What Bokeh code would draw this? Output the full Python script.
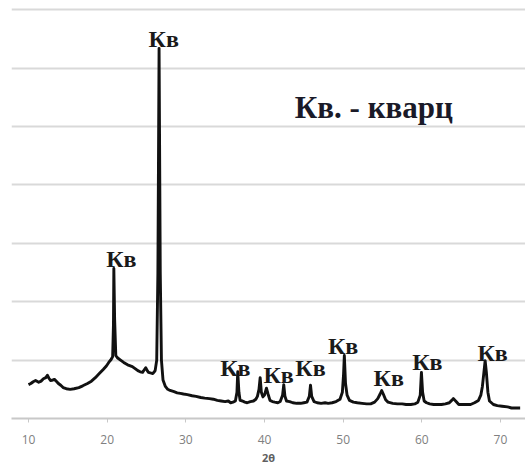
from bokeh.plotting import figure
from bokeh.models import Range1d, FixedTicker, ColumnDataSource
from bokeh.core.properties import value
from bokeh.embed import file_html
from bokeh.resources import INLINE

# XRD pattern (2θ, intensity in grid units)
two_theta = [
    10.0, 10.3, 10.6, 10.9, 11.3, 11.6, 11.9, 12.2, 12.4, 12.6, 12.8, 13.1, 13.3, 13.6, 13.8,
    14.1, 14.4, 14.8, 15.3, 15.8, 16.4, 16.9, 17.5, 18.0, 18.5, 19.0, 19.5, 19.9, 20.2, 20.5,
    20.7, 20.8, 20.85, 20.95, 21.1, 21.3, 21.7, 22.1, 22.6, 23.2, 23.6, 23.9, 24.2, 24.5, 24.7,
    24.9, 25.1, 25.25, 25.5, 25.8, 26.0, 26.1, 26.3, 26.45, 26.6, 26.75, 26.9, 27.1, 27.4, 27.7,
    28.0, 28.5, 28.9, 29.3, 29.7, 30.2, 30.8, 31.3, 31.9, 32.4, 33.0, 33.5, 34.0, 34.5, 35.0,
    35.4, 35.7, 36.0, 36.3, 36.5, 36.6, 36.75, 36.9, 37.2, 37.5, 37.8, 38.2, 38.6, 38.9, 39.1,
    39.3, 39.45, 39.6, 39.8, 40.0, 40.25, 40.45, 40.7, 41.0, 41.3, 41.7, 42.0, 42.3, 42.45, 42.6,
    42.8, 43.2, 43.6, 44.1, 44.6, 45.0, 45.4, 45.7, 45.85, 46.0, 46.3, 46.7, 47.2, 47.7, 48.1,
    48.6, 49.1, 49.6, 49.9, 50.05, 50.15, 50.3, 50.5, 50.8, 51.3, 51.8, 52.4, 53.0, 53.5, 54.0,
    54.4, 54.7, 54.9, 55.1, 55.4, 55.7, 56.3, 56.9, 57.5, 58.0, 58.6, 59.1, 59.5, 59.8, 59.95,
    60.1, 60.3, 60.6, 61.0, 61.5, 62.0, 62.5, 63.0, 63.5, 63.8, 64.0, 64.3, 64.7, 65.2, 65.7,
    66.2, 66.7, 67.2, 67.5, 67.7, 67.9, 68.05, 68.2, 68.4, 68.6, 69.1, 69.6, 70.2, 70.9, 71.4,
    71.9, 72.3, 72.5,
]
intensity = [
    0.58, 0.60, 0.63, 0.65, 0.62, 0.64, 0.68, 0.70, 0.74, 0.69, 0.65, 0.66, 0.67, 0.63, 0.60,
    0.57, 0.53, 0.51, 0.50, 0.51, 0.53, 0.56, 0.60, 0.64, 0.70, 0.77, 0.84, 0.90, 0.96, 1.01,
    1.06, 1.60, 2.57, 1.70, 1.08, 1.04, 1.00, 0.96, 0.92, 0.89, 0.85, 0.82, 0.80, 0.79, 0.83,
    0.87, 0.82, 0.79, 0.78, 0.77, 0.80, 0.82, 1.00, 2.50, 6.34, 2.50, 1.00, 0.66, 0.55, 0.50,
    0.48, 0.46, 0.44, 0.43, 0.42, 0.41, 0.39, 0.38, 0.36, 0.35, 0.34, 0.33, 0.31, 0.30, 0.29,
    0.30, 0.27, 0.28, 0.30, 0.45, 0.80, 0.45, 0.31, 0.30, 0.28, 0.27, 0.29, 0.30, 0.33, 0.38,
    0.50, 0.70, 0.45, 0.37, 0.40, 0.52, 0.42, 0.31, 0.29, 0.28, 0.27, 0.29, 0.40, 0.58, 0.38,
    0.30, 0.29, 0.27, 0.26, 0.26, 0.27, 0.28, 0.38, 0.57, 0.38, 0.29, 0.27, 0.26, 0.27, 0.26,
    0.27, 0.29, 0.33, 0.45, 0.75, 1.08, 0.60, 0.40, 0.31, 0.28, 0.27, 0.26, 0.25, 0.25, 0.28,
    0.34, 0.42, 0.48, 0.42, 0.32, 0.28, 0.26, 0.25, 0.25, 0.24, 0.24, 0.25, 0.28, 0.40, 0.79,
    0.45, 0.30, 0.27, 0.25, 0.24, 0.24, 0.24, 0.25, 0.27, 0.31, 0.34, 0.30, 0.24, 0.24, 0.24,
    0.24, 0.27, 0.31, 0.40, 0.55, 0.80, 0.99, 0.80, 0.45, 0.30, 0.24, 0.22, 0.21, 0.20, 0.18,
    0.18, 0.18, 0.18,
]

# peak labels
label_x = [21.8, 27.2, 36.3, 41.8, 45.85, 50.0, 55.8, 60.7, 69.0]
label_y = [2.74, 6.5, 0.87, 0.74, 0.87, 1.25, 0.70, 0.96, 1.13]
label_text = ["Кв"] * len(label_x)

x_ticks = [10, 20, 30, 40, 50, 60, 70]
grid_levels = [1, 2, 3, 4, 5, 6, 7]
legend_note = "Кв. - кварц"

p = figure(width=525, height=470, output_backend="svg", toolbar_location=None,
           x_range=Range1d(7.84, 73.18), y_range=Range1d(0, 7.16),
           min_border_left=11, min_border_right=0, min_border_top=0, min_border_bottom=52)
p.outline_line_color = None
p.background_fill_color = "white"
p.border_fill_color = "white"

p.yaxis.visible = False
p.xgrid.visible = False
p.ygrid.ticker = FixedTicker(ticks=grid_levels)
p.ygrid.grid_line_color = "#d9d9d9"
p.ygrid.grid_line_width = 2

xa = p.xaxis[0]
xa.ticker = FixedTicker(ticks=x_ticks, minor_ticks=[])
xa.axis_line_color = "#c8c8c8"
xa.axis_line_width = 2
xa.major_tick_line_color = "#c8c8c8"
xa.major_tick_out = 4
xa.major_tick_in = 0
xa.minor_tick_line_color = None
xa.major_label_text_font = "Open Sans"
xa.major_label_text_font_size = "12px"
xa.major_label_text_color = "#808080"
xa.major_label_standoff = 12
xa.axis_label = "2θ"
xa.axis_label_text_font = "Open Sans"
xa.axis_label_text_font_size = "11px"
xa.axis_label_text_font_style = "bold"
xa.axis_label_text_color = "#606060"
xa.axis_label_standoff = 3

src = ColumnDataSource(dict(x=two_theta, y=intensity))
p.line("x", "y", source=src, line_color="#111111", line_width=2.9, line_join="round")

lsrc = ColumnDataSource(dict(x=label_x, y=label_y, t=label_text))
p.text("x", "y", text="t", source=lsrc, text_font=value("Liberation Serif"),
       text_font_style="bold", text_font_size="24px", text_color="#1a1a1a",
       text_align="center", text_baseline="middle")

p.text(x=[53.9], y=[5.33], text=[legend_note], text_font=value("Liberation Serif"),
       text_font_style="bold", text_font_size="31px", text_color="#1a1a28",
       text_align="center", text_baseline="middle")

open("out.html", "w").write(file_html(p, INLINE))
